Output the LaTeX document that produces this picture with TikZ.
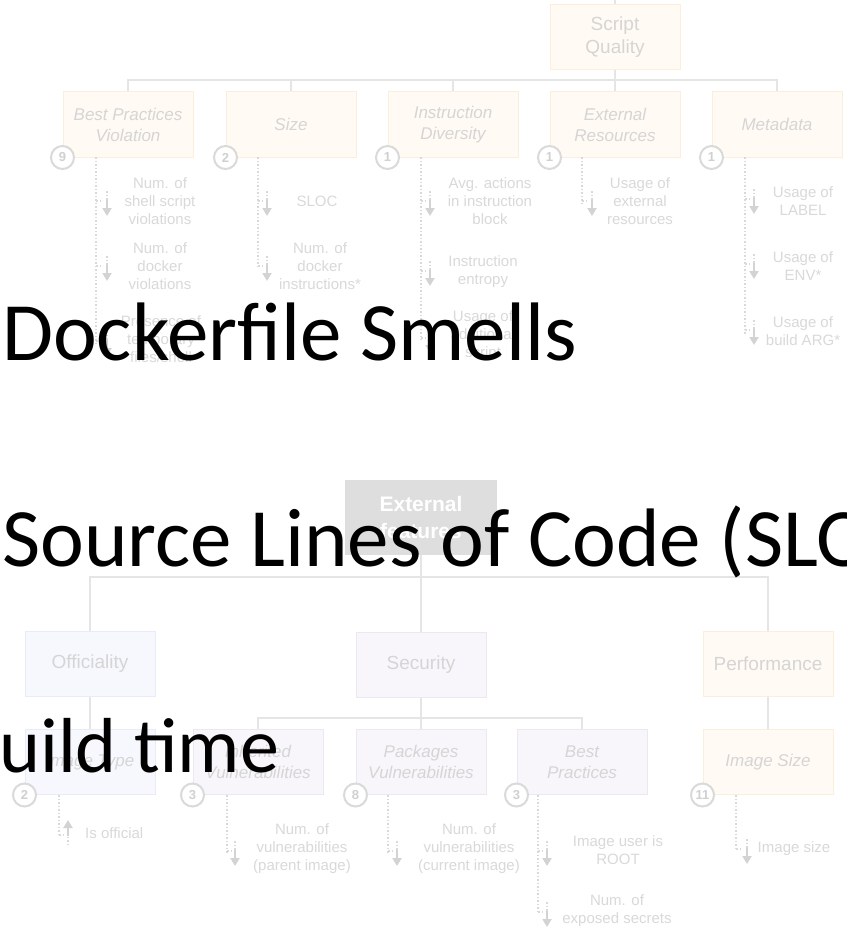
\documentclass[tikz,border=0pt]{standalone}
\usepackage{fontspec}
\setmainfont{Liberation Sans}
\newfontfamily\ovl{Carlito}
\usetikzlibrary{arrows.meta}
\definecolor{orfill}{HTML}{FFFAF3}
\definecolor{ordraw}{HTML}{FBEEDC}
\definecolor{blfill}{HTML}{F6F8FD}
\definecolor{bldraw}{HTML}{E7EDF8}
\definecolor{pufill}{HTML}{F8F6FB}
\definecolor{pudraw}{HTML}{ECE8F2}
\definecolor{boxtxt}{HTML}{D5D5D5}
\definecolor{treeclr}{HTML}{E5E5E5}
\definecolor{badgeclr}{HTML}{DADADA}
\definecolor{badgetxt}{HTML}{D0D0D0}
\definecolor{feattxt}{HTML}{D9D9D9}
\definecolor{dotclr}{HTML}{D9D9D9}
\definecolor{arrclr}{HTML}{D3D3D3}
\definecolor{extfill}{HTML}{DEDEDE}
\tikzset{
 cbox/.style={rectangle, draw, line width=1pt, minimum width=130pt, minimum height=65pt, inner sep=0pt, align=center, text=boxtxt},
 orng/.style={cbox, fill=orfill, draw=ordraw},
 blu/.style={cbox, fill=blfill, draw=bldraw},
 pur/.style={cbox, fill=pufill, draw=pudraw},
 cat/.style={font=\fontsize{19}{23}\selectfont},
 sub/.style={font=\fontsize{17}{21}\selectfont\itshape},
 tree/.style={draw=treeclr, line width=2pt},
 badge/.style={circle, draw=badgeclr, line width=2pt, fill=white, minimum size=23pt, inner sep=0pt, text=badgetxt, font=\fontsize{13}{13}\selectfont\bfseries},
 feat/.style={align=center, text=feattxt, font=\fontsize{15}{18}\selectfont, inner sep=0pt},
 dotln/.style={draw=dotclr, line width=1.2pt, dash pattern=on 1.5pt off 2pt},
 arrln/.style={draw=arrclr, line width=2.8pt, -{Triangle[width=9pt,length=8pt]}},
 extbox/.style={rectangle, fill=extfill, minimum width=152pt, minimum height=75pt, inner sep=0pt, align=center, text=white, font=\fontsize{21}{27}\selectfont\bfseries},
 ovltext/.style={font=\ovl\fontsize{83}{90}\selectfont, text=black, anchor=base west, inner sep=0pt},
}
\newcommand\dnglyph[3]{%
 \draw[dotln] (#1,#3-1) -- (#2-4,#3-1);
 \draw[dotln] (#2,#3-11) -- (#2,#3-1);
 \draw[arrln] (#2,#3-2) -- (#2,#3+14);
}
\newcommand\upglyph[3]{%
 \draw[dotln] (#1,#3+1) -- (#2-4,#3+1);
 \draw[dotln] (#2,#3+11) -- (#2,#3+1);
 \draw[arrln] (#2,#3+2) -- (#2,#3-14);
}
\begin{document}
\begin{tikzpicture}[x=1pt,y=-1pt]
\useasboundingbox (0,0) rectangle (846,931);
\clip (0,0) rectangle (846,931);
\fill[white] (0,0) rectangle (846,931);

% ---------------- top tree
\node[orng, cat] (sq) at (615,37.5) {Script\\Quality};
\node[orng, sub] (bpv) at (128,124.5) {Best Practices\\Violation};
\node[orng, sub] (size) at (291,124.5) {Size};
\node[orng, sub] (idv) at (453,124.5) {Instruction\\Diversity};
\node[orng, sub] (ext) at (615,124.5) {External\\Resources};
\node[orng, sub] (meta) at (777,124.5) {Metadata};
\coordinate (top) at (615,0);
\coordinate (bus1) at (615,80);
\draw[tree] (top) -- (sq);
\draw[tree] (sq) -- (bus1);
\draw[tree] (bpv.north) -- (bpv.north |- bus1) -- (meta.north |- bus1) -- (meta.north);
\draw[tree] (size.north |- bus1) -- (size.north);
\draw[tree] (idv.north |- bus1) -- (idv.north);
\draw[tree] (ext.north |- bus1) -- (ext.north);

% dotted feature lines (top)
\coordinate (d1s) at (96,157);  \coordinate (d1e) at (96,345);
\coordinate (d2s) at (258,157); \coordinate (d2e) at (258,268);
\coordinate (d3s) at (421,157); \coordinate (d3e) at (421,340);
\coordinate (d4s) at (582,157); \coordinate (d4e) at (582,203);
\coordinate (d5s) at (745,157); \coordinate (d5e) at (745,334);
\draw[dotln] (d1s) -- (d1e);
\draw[dotln] (d2s) -- (d2e);
\draw[dotln] (d3s) -- (d3e);
\draw[dotln] (d4s) -- (d4e);
\draw[dotln] (d5s) -- (d5e);

\node[badge] (b1) at (bpv.south west) {9};
\node[badge] (b2) at (size.south west) {2};
\node[badge] (b3) at (idv.south west) {1};
\node[badge] (b4) at (ext.south west) {1};
\node[badge] (b5) at (meta.south west) {1};

% features: Best Practices Violation
\dnglyph{96}{107}{202}
\node[feat] (f11) at (160,201) {Num. of\\shell script\\violations};
\dnglyph{96}{107}{267}
\node[feat] (f12) at (160,266) {Num. of\\docker\\violations};
\dnglyph{96}{107}{342}
\node[feat] (f13) at (161,339) {Presence of\\temporary\\files/shell};
% Size
\dnglyph{258}{267}{202}
\node[feat] (f21) at (317,201) {SLOC};
\dnglyph{258}{267}{267}
\node[feat] (f22) at (320,266) {Num. of\\docker\\instructions*};
% Instruction Diversity
\dnglyph{421}{430}{202}
\node[feat] (f31) at (490,201) {Avg. actions\\in instruction\\block};
\dnglyph{421}{430}{272}
\node[feat] (f32) at (483,271.5) {Instruction\\entropy};
\dnglyph{421}{430}{339}
\node[feat] (f33) at (483,336) {Usage of\\additional\\script};
% External Resources
\dnglyph{582}{592}{202}
\node[feat] (f41) at (640,201) {Usage of\\external\\resources};
% Metadata
\dnglyph{745}{754}{200}
\node[feat] (f51) at (803,201.5) {Usage of\\LABEL};
\dnglyph{745}{754}{265}
\node[feat] (f52) at (803,266.5) {Usage of\\ENV*};
\dnglyph{745}{754}{331}
\node[feat] (f53) at (803,331.5) {Usage of\\build ARG*};

% ---------------- bottom tree
\node[extbox] (xf) at (421,517.5) {External\\features};
\coordinate (bus2) at (421,577);
\node[blu, cat] (off) at (90,664) {Officiality};
\node[pur, cat] (sec) at (421,664.5) {Security};
\node[orng, cat] (perf) at (768,664) {Performance};
\draw[tree] (xf.south) -- (bus2);
\draw[tree] (off.north) -- (off.north |- bus2) -- (perf.north |- bus2) -- (perf.north);
\draw[tree] (bus2) -- (sec.north);

\node[blu, sub] (itype) at (90,762) {Image Type};
\node[pur, sub] (inh) at (258,762) {Inherited\\Vulnerabilities};
\node[pur, sub] (pkg) at (421,762) {Packages\\Vulnerabilities};
\node[pur, sub] (bpr) at (582,762) {Best\\Practices};
\node[orng, sub] (isz) at (768,762) {Image Size};
\coordinate (bus3) at (421,718);
\draw[tree] (off) -- (itype);
\draw[tree] (perf) -- (isz);
\draw[tree] (sec) -- (pkg);
\draw[tree] (inh.north) -- (inh.north |- bus3) -- (bpr.north |- bus3) -- (bpr.north);

\coordinate (e1s) at (59,795);  \coordinate (e1e) at (59,834);
\coordinate (e2s) at (227,795); \coordinate (e2e) at (227,853);
\coordinate (e3s) at (388,795); \coordinate (e3e) at (388,853);
\coordinate (e4s) at (538,795); \coordinate (e4e) at (538,914);
\coordinate (e5s) at (736,795); \coordinate (e5e) at (736,851);
\draw[dotln] (e1s) -- (e1e);
\draw[dotln] (e2s) -- (e2e);
\draw[dotln] (e3s) -- (e3e);
\draw[dotln] (e4s) -- (e4e);
\draw[dotln] (e5s) -- (e5e);

\node[badge] (c1) at (itype.south west) {2};
\node[badge] (c2) at (inh.south west) {3};
\node[badge] (c3) at (pkg.south west) {8};
\node[badge] (c4) at (bpr.south west) {3};
\node[badge] (c5) at (isz.south west) {11};

\upglyph{59}{68}{834}
\node[feat, anchor=west] (g11) at (85,833) {Is official};
\dnglyph{227}{235}{852}
\node[feat] (g21) at (302,849) {Num. of\\vulnerabilities\\(parent image)};
\dnglyph{388}{397}{852}
\node[feat] (g31) at (469,849) {Num. of\\vulnerabilities\\(current image)};
\dnglyph{538}{547}{852}
\node[feat] (g41) at (618,850) {Image user is\\ROOT};
\dnglyph{538}{547}{913}
\node[feat] (g42) at (617,911) {Num. of\\exposed secrets};
\dnglyph{736}{747}{850}
\node[feat] (g51) at (794,849) {Image size};

% ---------------- overlay text
\node[ovltext] (t1) at (2,360) {Dockerfile Smells};
\node[ovltext] (t2) at (2,566) {Source Lines of Code (SLOC};
\node[ovltext, font=\ovl\fontsize{78}{90}\selectfont] (t3) at (-1,772) {uild time};
\end{tikzpicture}
\end{document}
